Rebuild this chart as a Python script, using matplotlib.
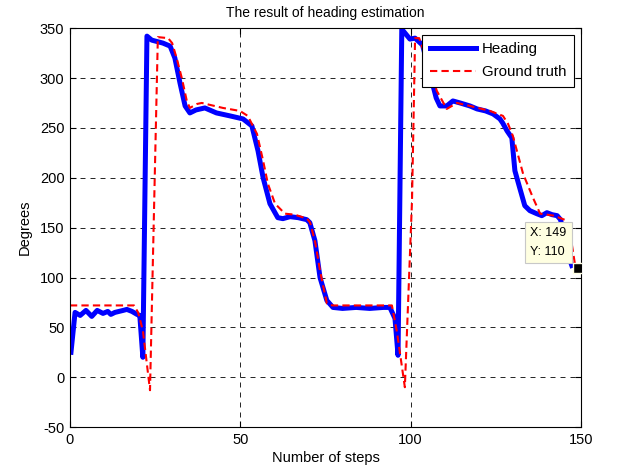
import numpy as np
import matplotlib
matplotlib.use('Agg')
import matplotlib.pyplot as plt

plt.rcParams['font.family'] = ['Liberation Sans', 'DejaVu Sans']
plt.rcParams['axes.unicode_minus'] = False

# heading estimate
head_x = [0.3, 1.5, 3, 4.7, 6.4, 8, 9.7, 11.1, 12, 13.2, 15.6, 16.7, 18.2, 19.7, 20.5, 21.4,
          22.6, 24, 27.3, 29.4, 30.8, 32.3, 33.8, 35.2, 37, 39.6, 43, 47, 50.8, 53.4, 55.2,
          56.7, 58.7, 61, 62.5, 64.6, 67, 69.5, 70.4, 71.9, 73.4, 75.4, 77.2, 80, 84, 88, 92,
          93.9, 95.4, 96.3, 97.4, 99.8, 101.3, 103.5, 106, 107.5, 108.6, 110.6, 112.4, 114.5,
          117.4, 119.5, 122, 124.2, 126.2, 127, 128.3, 129.7, 130.6, 132, 133.5, 135, 137,
          138.5, 140, 141.5, 143, 144, 146.5, 147.3]
head_y = [25, 65, 62, 67, 61, 67, 64, 66, 63, 65, 67, 68, 66, 63, 62, 20,
          342, 338, 335, 332, 320, 295, 272, 265, 268, 270, 265, 262, 259, 252, 227,
          200, 174, 160, 159, 161, 160, 158, 155, 137, 100, 77, 70, 69, 70, 69, 70,
          70, 59, 22, 349, 339, 340, 333, 300, 280, 272, 272, 277, 275,
          272, 269, 267, 264, 259, 255, 247, 240, 207, 190, 172, 167, 164,
          162, 165, 163, 162, 158, 120, 112]

# ground truth
truth_x = [0, 18.8, 20, 21.4, 23.5, 25.8, 28.8, 30, 31.4, 32.9, 34.3, 35.2, 37.3, 38.7, 44.9,
           49.9, 52.2, 54.9, 56.7, 58.1, 60.2, 63.1, 66, 69.6, 70.5, 72, 73.5, 75.4, 77, 94.5,
           96, 98.3, 100.4, 101.3, 102.5, 105, 107.7, 110.6, 113.6, 117.4, 123.3, 127.1, 128.6,
           130, 133, 135.9, 138, 142, 145.9, 147, 148.2, 149]
truth_y = [72, 72, 65, 47, -13, 341, 340, 335, 319, 299, 277, 270, 274, 275, 270,
           267, 262, 244, 217, 194, 174, 164, 163, 159, 155, 135, 105, 74, 72, 72,
           45, -10, 177, 340, 340, 315, 287, 269, 275, 272, 267, 262, 254,
           242, 204, 180, 164, 162, 157, 140, 114, 110]

tip_x, tip_y = 149, 110

fig = plt.figure(figsize=(6.19, 4.73), dpi=100)
ax = fig.add_axes([0.113, 0.097, 0.8256, 0.8435])

ax.plot(head_x, head_y, color='#0000ff', lw=3.6, label='Heading', solid_joinstyle='round')
ax.plot(truth_x, truth_y, color='#ff0000', lw=1.5, ls=(0, (3.5, 2)), label='Ground truth')

ax.set_xlim(0, 150)
ax.set_ylim(-50, 350)
ax.set_xticks([0, 50, 100, 150])
ax.set_yticks(np.arange(-50, 351, 50))
ax.grid(True, color='black', ls=(0, (6, 6)), lw=0.6)
ax.tick_params(direction='in', top=True, right=True, labelsize=10.5, length=4, pad=4)
for s in ax.spines.values():
    s.set_linewidth(0.8)

ax.set_title('The result of heading estimation', fontsize=10, pad=8)
ax.set_xlabel('Number of steps', fontsize=10.5, labelpad=3)
ax.set_ylabel('Degrees', fontsize=10.5, labelpad=6)

leg = ax.legend(loc='upper right', fontsize=10.8, handlelength=3.1, fancybox=False,
                framealpha=1, edgecolor='black', borderaxespad=0.45, labelspacing=0.6,
                handletextpad=0.4, borderpad=0.5)
leg.get_frame().set_linewidth(0.8)

# data tip
ax.plot([tip_x], [tip_y], marker='s', ms=7, color='black', mec='#ffffe1', mew=1, zorder=5)
ax.annotate('X: 149\nY: 110', xy=(tip_x, tip_y), xytext=(-34, 7), textcoords='offset points',
            fontsize=9, ha='left', va='bottom', linespacing=1.75,
            bbox=dict(boxstyle='square,pad=0.4', fc='#ffffe1', ec='#c8c8c8', lw=0.8),
            zorder=6)

fig.savefig('out.png', dpi=100)
